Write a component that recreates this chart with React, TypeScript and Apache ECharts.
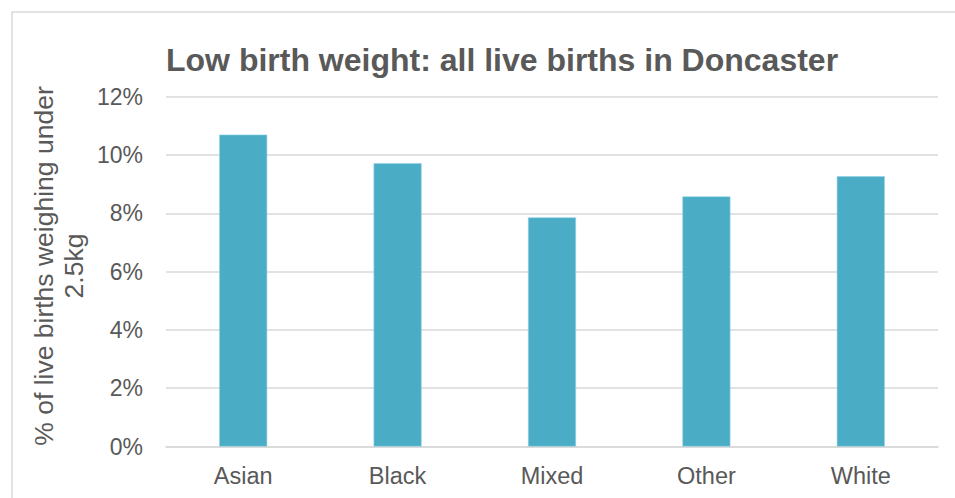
import React, { useEffect, useRef } from "react";
import * as echarts from "echarts";

const categories = ["Asian", "Black", "Mixed", "Other", "White"];
const lowBirthWeightPct = [10.7, 9.72, 7.86, 8.58, 9.27];
const yTicks = [0, 2, 4, 6, 8, 10, 12];
const titleText = "Low birth weight: all live births in Doncaster";
const yAxisTitle = "% of live births weighing under\n2.5kg";

const FONT = "'Liberation Sans', Arial, sans-serif";
const TXT = "#595959";

export default function App() {
  const ref = useRef<HTMLDivElement>(null);
  useEffect(() => {
    if (!ref.current) return;
    const chart = echarts.init(ref.current, undefined, { renderer: "svg" });
    chart.setOption({
      animation: false,
      backgroundColor: "#ffffff",
      textStyle: { fontFamily: FONT },
      title: {
        text: titleText,
        left: 166,
        top: 44,
        padding: 0,
        textStyle: { fontFamily: FONT, fontSize: 32, fontWeight: "bold", color: TXT },
      },
      graphic: [
        {
          type: "rect",
          shape: { x: 12, y: 12, width: 1000, height: 1000 },
          style: { fill: "none", stroke: "#D9D9D9", lineWidth: 1.5 },
          silent: true,
        },
        {
          type: "text",
          x: 59,
          y: 266,
          rotation: Math.PI / 2,
          style: {
            text: yAxisTitle,
            fontFamily: FONT,
            fontSize: 26.5,
            lineHeight: 30,
            fill: TXT,
            textAlign: "center",
            textVerticalAlign: "middle",
          },
        },
      ],
      grid: { left: 166, right: 17, top: 96.7, bottom: 51.5, containLabel: false },
      xAxis: {
        type: "category",
        data: categories,
        axisLine: { show: true, lineStyle: { color: "#D9D9D9", width: 1.5 } },
        axisTick: { show: false },
        axisLabel: { color: TXT, fontSize: 23.5, fontFamily: FONT, margin: 17 },
      },
      yAxis: {
        type: "value",
        min: yTicks[0],
        max: yTicks[yTicks.length - 1],
        interval: 2,
        axisLine: { show: false },
        axisTick: { show: false },
        splitLine: { lineStyle: { color: "#D9D9D9", width: 1.5 } },
        axisLabel: {
          color: TXT,
          fontSize: 23,
          fontFamily: FONT,
          margin: 23,
          formatter: (v: number) => `${v}%`,
        },
      },
      series: [
        {
          type: "bar",
          data: lowBirthWeightPct,
          barWidth: 48,
          itemStyle: { color: "#4BACC6", borderColor: "#8fd3e6", borderWidth: 0.6 },
        },
      ],
    });
    return () => chart.dispose();
  }, []);
  return (
    <div
      ref={ref}
      style={{ position: "fixed", left: 0, top: 0, width: 955, height: 498 }}
    />
  );
}
